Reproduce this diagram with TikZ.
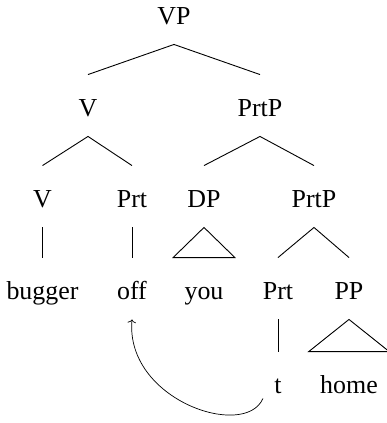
\documentclass[tikz,border=0pt]{standalone}
\usepackage{fontspec}
\setmainfont{Liberation Serif}
\usepackage{tikz}
\usetikzlibrary{arrows.meta}

\begin{document}
\begin{tikzpicture}[x=1bp,y=-1bp,line width=0.9bp,
    font=\fontsize{26}{30}\selectfont,
    lbl/.style={anchor=base,inner xsep=11bp,inner ysep=0pt,
      text height=41bp,text depth=20bp}]
  \useasboundingbox (0,0) rectangle (387,423);
  \node[lbl] (vp) at (174,24) {VP};
  \node[lbl] (v) at (88,116) {V};
  \node[lbl] (prtp) at (260,116) {PrtP};
  \node[lbl] (vv) at (42.5,207) {V};
  \node[lbl] (prt) at (132,207) {Prt};
  \node[lbl] (dp) at (204,207) {DP};
  \node[lbl] (prtpb) at (314,207) {PrtP};
  \node[lbl] (bugger) at (42.5,299) {bugger};
  \node[lbl] (off) at (132,299) {off};
  \node[lbl] (you) at (204,299) {you};
  \node[lbl] (prtb) at (278,299) {Prt};
  \node[lbl] (pp) at (349,299) {PP};
  \node[lbl] (t) at (278,393) {t};
  \node[lbl] (home) at (349,393) {home};
  % branches
  \draw (v.north) -- (vp.south) -- (prtp.north);
  \draw (vv.north) -- (v.south) -- (prt.north);
  \draw (dp.north) -- (prtp.south) -- (prtpb.north);
  \draw (prtb.north) -- (prtpb.south) -- (pp.north);
  \draw (vv.south) -- (bugger.north);
  \draw (prt.south) -- (off.north);
  \draw (prtb.south) -- (t.north);
  % roofs
  \draw (dp.south) -- (you.north east) -- (you.north west) -- cycle;
  \draw (pp.south) -- (home.north east) -- (home.north west) -- cycle;
  % movement
  \draw[-{To[length=3.5bp,width=8.5bp]},line width=0.7bp]
    ([yshift=15bp]t.south west) .. controls (245,440) and (125,400) .. (off.south);
\end{tikzpicture}
\end{document}
